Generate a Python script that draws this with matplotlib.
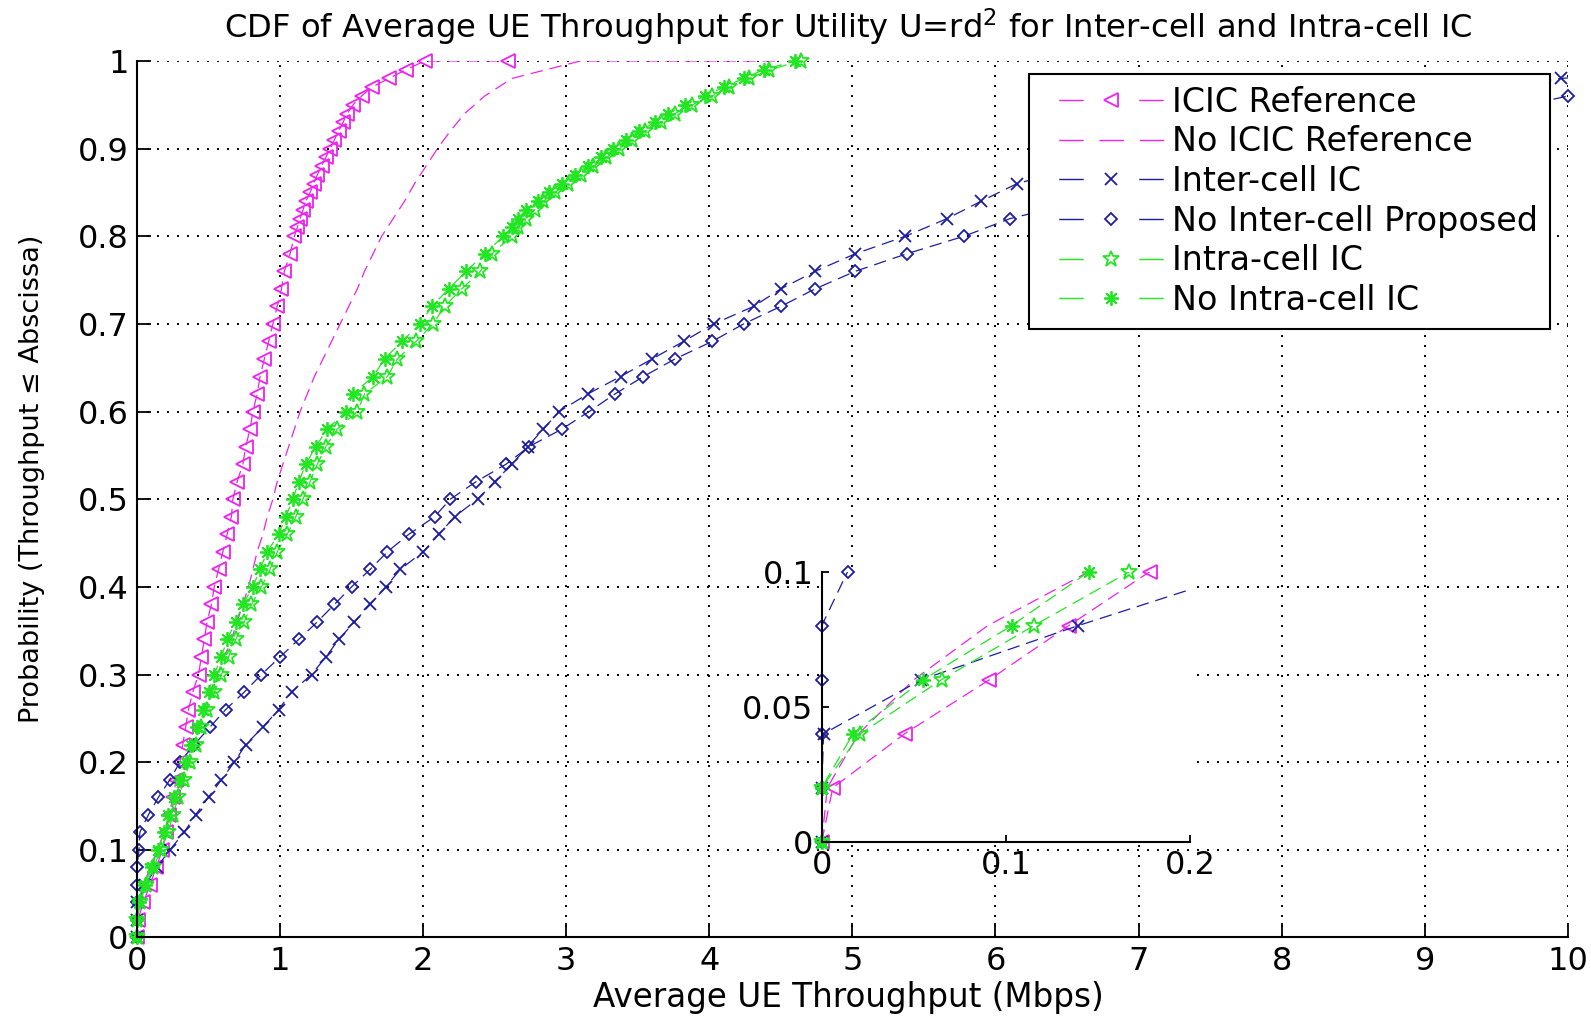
import matplotlib
matplotlib.use("Agg")
import matplotlib.pyplot as plt
from matplotlib.lines import Line2D

# CDF levels
cdf_step = [0.00, 0.02, 0.04, 0.06, 0.08, 0.10, 0.12, 0.14, 0.16, 0.18,
            0.20, 0.22, 0.24, 0.26, 0.28, 0.30, 0.32, 0.34, 0.36, 0.38,
            0.40, 0.42, 0.44, 0.46, 0.48, 0.50, 0.52, 0.54, 0.56, 0.58,
            0.60, 0.62, 0.64, 0.66, 0.68, 0.70, 0.72, 0.74, 0.76, 0.78,
            0.80, 0.82, 0.84, 0.86, 0.88, 0.90, 0.92, 0.94, 0.96, 0.98, 1.00]
cdf_lo = cdf_step[:40]
cdf_hi = [0.80, 0.81, 0.82, 0.83, 0.84, 0.85, 0.86, 0.87, 0.88, 0.89, 0.90,
          0.91, 0.92, 0.93, 0.94, 0.95, 0.96, 0.97, 0.98, 0.99, 1.00]

# throughput (Mbps)
icic_lo = [0.0, 0.006, 0.045, 0.091, 0.134, 0.178, 0.20, 0.225, 0.25, 0.275,
           0.30, 0.32, 0.34, 0.36, 0.39, 0.43, 0.45, 0.47, 0.49, 0.52,
           0.54, 0.57, 0.60, 0.63, 0.66, 0.67, 0.70, 0.74, 0.76, 0.79,
           0.81, 0.84, 0.86, 0.89, 0.92, 0.95, 0.98, 1.01, 1.03, 1.07]
icic_hi = [1.10, 1.12, 1.14, 1.16, 1.18, 1.21, 1.235, 1.26, 1.29, 1.32, 1.35,
           1.38, 1.41, 1.44, 1.47, 1.51, 1.57, 1.64, 1.76, 1.88, 2.01]
icic_tail = 2.59

noicic = [0.0, 0.003, 0.02, 0.05, 0.09, 0.145, 0.19, 0.23, 0.27, 0.31,
          0.35, 0.39, 0.43, 0.47, 0.51, 0.56, 0.61, 0.66, 0.70, 0.74,
          0.78, 0.81, 0.84, 0.88, 0.91, 0.95, 0.98, 1.02, 1.06, 1.10,
          1.14, 1.19, 1.24, 1.30, 1.36, 1.42, 1.48, 1.54, 1.59, 1.65,
          1.71, 1.79, 1.87, 1.94, 2.02, 2.10, 2.19, 2.29, 2.43, 2.62, 3.10]
noicic_tail = 4.50

inter = [0.0, 0.0, 0.001, 0.054, 0.139, 0.23, 0.33, 0.41, 0.50, 0.59,
         0.68, 0.76, 0.88, 0.99, 1.08, 1.22, 1.32, 1.41, 1.52, 1.63,
         1.74, 1.84, 2.00, 2.11, 2.22, 2.38, 2.50, 2.62, 2.73, 2.84,
         2.95, 3.15, 3.38, 3.60, 3.82, 4.03, 4.31, 4.50, 4.74, 5.02,
         5.37, 5.66, 5.90, 6.15, 6.60, 7.10, 7.70, 8.40, 9.10, 9.95, 11.5]

nointer = [0.0, 0.0, 0.0, 0.0, 0.0, 0.014, 0.02, 0.08, 0.15, 0.23,
           0.30, 0.40, 0.51, 0.62, 0.75, 0.87, 1.00, 1.13, 1.26, 1.38,
           1.50, 1.63, 1.75, 1.90, 2.08, 2.19, 2.37, 2.58, 2.74, 2.97,
           3.16, 3.34, 3.54, 3.76, 4.02, 4.24, 4.50, 4.74, 5.02, 5.38,
           5.78, 6.10, 6.60, 7.10, 7.70, 8.30, 8.90, 9.45, 10.0, 11.0, 13.0]

intra_lo = [0.0, 0.0, 0.021, 0.065, 0.115, 0.167, 0.22, 0.25, 0.29, 0.33,
            0.37, 0.41, 0.45, 0.49, 0.54, 0.59, 0.64, 0.69, 0.75, 0.80,
            0.87, 0.93, 0.98, 1.05, 1.11, 1.16, 1.21, 1.26, 1.32, 1.40,
            1.54, 1.59, 1.75, 1.82, 1.95, 2.07, 2.15, 2.27, 2.40, 2.48]
intra_hi = [2.62, 2.66, 2.72, 2.78, 2.84, 2.92, 3.01, 3.10, 3.19, 3.28, 3.37,
            3.46, 3.55, 3.66, 3.76, 3.88, 4.02, 4.14, 4.28, 4.42, 4.64]

nointra_lo = [0.0, 0.0, 0.017, 0.055, 0.103, 0.145, 0.19, 0.22, 0.26, 0.30,
              0.34, 0.38, 0.42, 0.46, 0.50, 0.54, 0.59, 0.63, 0.69, 0.74,
              0.81, 0.86, 0.91, 0.99, 1.04, 1.09, 1.13, 1.18, 1.25, 1.33,
              1.46, 1.51, 1.65, 1.73, 1.85, 1.98, 2.06, 2.18, 2.30, 2.43]
nointra_hi = [2.56, 2.62, 2.66, 2.72, 2.80, 2.88, 2.97, 3.06, 3.15, 3.24, 3.33,
              3.42, 3.51, 3.62, 3.71, 3.83, 3.97, 4.10, 4.24, 4.38, 4.60]

labels = ["ICIC Reference", "No ICIC Reference", "Inter-cell IC",
          "No Inter-cell Proposed", "Intra-cell IC", "No Intra-cell IC"]

MAG = "#ee22ee"
BLU = "#1c1ca0"
GRN = "#22e622"

series = [
    (icic_lo + icic_hi + [icic_tail], cdf_lo + cdf_hi + [1.0], MAG, "<", 9.5),
    (noicic + [noicic_tail], cdf_step + [1.0], MAG, None, 0),
    (inter, cdf_step, BLU, "x", 8.5),
    (nointer, cdf_step, BLU, "D", 6.5),
    (intra_lo + intra_hi, cdf_lo + cdf_hi, GRN, "*", 12),
    (nointra_lo + nointra_hi, cdf_lo + cdf_hi, GRN, (8, 2, 0), 10.5),
]

plt.rcParams["font.family"] = ["DejaVu Sans"]
plt.rcParams["lines.scale_dashes"] = False
DASH = (0, (9, 5))


def draw(axis, xmax, ymax):
    # line clipped to the axes, markers drawn whole like in MATLAB
    for xs, ys, c, m, ms in series:
        axis.plot(xs, ys, color=c, ls=DASH, lw=0.9)
        if m is None:
            continue
        px = [x for x, y in zip(xs, ys) if x <= xmax * 1.001 and y <= ymax * 1.001]
        py = [y for x, y in zip(xs, ys) if x <= xmax * 1.001 and y <= ymax * 1.001]
        axis.plot(px, py, ls="none", marker=m, ms=ms, mfc="none", mec=c,
                  mew=1.3, clip_on=False)


fig = plt.figure(figsize=(15.91, 10.16), dpi=100)
ax = fig.add_axes([0.0861, 0.0773, 0.8993, 0.8627])
draw(ax, 10, 1)
ax.set_xlim(0, 10)
ax.set_ylim(0, 1)
ax.set_xticks(range(11))
ax.set_yticks([0, 0.1, 0.2, 0.3, 0.4, 0.5, 0.6, 0.7, 0.8, 0.9, 1.0])
ax.set_yticklabels(["0", "0.1", "0.2", "0.3", "0.4", "0.5", "0.6", "0.7",
                    "0.8", "0.9", "1"])
ax.tick_params(direction="in", length=10, width=1.3, labelsize=23)
ax.tick_params(axis="x", pad=6)
ax.tick_params(axis="y", pad=6)
ax.grid(True, color="black", lw=1.4, linestyle=(0, (1.4, 5.8)))
ax.set_axisbelow(True)
for s in ["top", "right"]:
    ax.spines[s].set_visible(False)
for s in ["left", "bottom"]:
    ax.spines[s].set_linewidth(1.5)

# legend handles: blank - dash - marker - dash - blank
mark_ls = (88.7, (17.6, 40, 17.6, 27))
plain_ls = (89.1, (17.6, 11.4, 17.6, 11.4, 17.6, 27))
handles = []
for xs, ys, c, m, ms in series:
    if m is None:
        handles.append(Line2D([], [], color=c, lw=1.0, ls=plain_ls))
    else:
        handles.append(Line2D([], [], color=c, lw=1.0, ls=mark_ls, marker=m,
                              ms=ms, mfc="none", mec=c, mew=1.3))
leg = ax.legend(handles, labels, loc="upper right",
                bbox_to_anchor=(1550 / 1591, 1 - 74 / 1016),
                bbox_transform=fig.transFigure, borderaxespad=0, fontsize=24,
                handlelength=4.26, handletextpad=-0.3, borderpad=0.35,
                labelspacing=0.2, fancybox=False, edgecolor="black",
                framealpha=1, numpoints=1)
leg.get_frame().set_linewidth(1.5)

# zoomed inset near the origin
ax_in = fig.add_axes([0.5165, 0.1715, 0.2316, 0.2658])
draw(ax_in, 0.2, 0.1)
ax_in.set_xlim(0, 0.2)
ax_in.set_ylim(0, 0.1)
ax_in.set_xticks([0, 0.1, 0.2])
ax_in.set_xticklabels(["0", "0.1", "0.2"])
ax_in.set_yticks([0, 0.05, 0.1])
ax_in.set_yticklabels(["0", "0.05", "0.1"])
ax_in.tick_params(direction="in", length=5, width=1.3, labelsize=23, pad=6)
for s in ["top", "right"]:
    ax_in.spines[s].set_visible(False)
for s in ["left", "bottom"]:
    ax_in.spines[s].set_linewidth(1.5)

fig.text(848 / 1591, 1 - 27.5 / 1016,
         "CDF of Average UE Throughput for Utility U=rd$^2$ for Inter-cell and Intra-cell IC",
         ha="center", va="center", fontsize=23.2)
fig.text(848 / 1591, 1 - 998 / 1016, "Average UE Throughput (Mbps)",
         ha="center", va="center", fontsize=23.5)
fig.text(32.5 / 1591, 1 - 479 / 1016, "Probability (Throughput \u2264 Abscissa)",
         ha="center", va="center", rotation=90, fontsize=19.5)

fig.savefig("out.png", dpi=100)
